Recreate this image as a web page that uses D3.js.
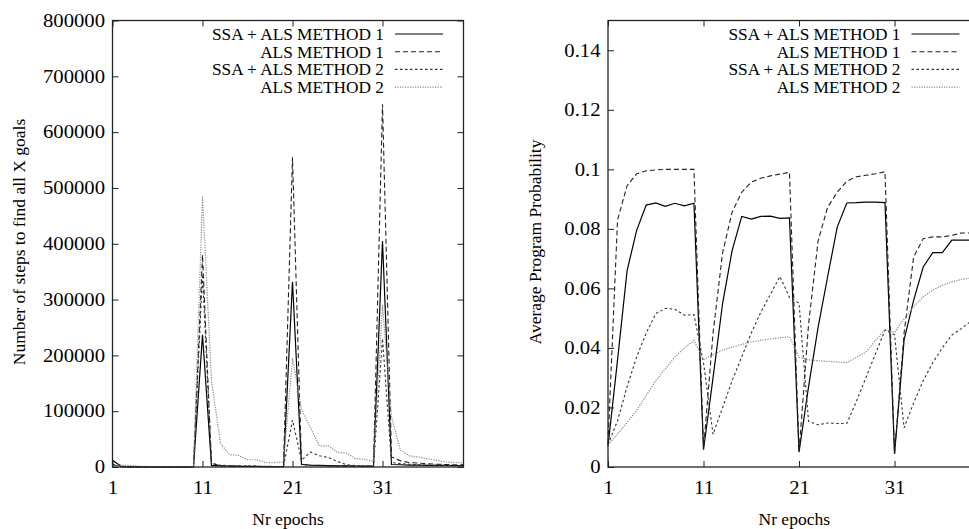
<!DOCTYPE html>
<html>
<head>
<meta charset="utf-8">
<script src="https://cdn.jsdelivr.net/npm/d3@7"></script>
<style>
body { margin: 0; background: #fff; }
svg text { font-family: "Liberation Serif", "Times New Roman", serif; fill: #000; }
</style>
</head>
<body>
<svg id="chart" width="969" height="529"></svg>
<script>
var epochs = d3.range(1, 41);
var epochTicks = [1, 11, 21, 31];
var seriesNames = ["SSA + ALS METHOD 1", "ALS METHOD 1", "SSA + ALS METHOD 2", "ALS METHOD 2"];

// left panel: steps to find all goals
var stepsTicks = [0, 100000, 200000, 300000, 400000, 500000, 600000, 700000, 800000];
var stepsSsa1 = [12000, 800, 300, 200, 200, 200, 200, 200, 200, 200,
	237000, 3000, 2000, 1500, 1200, 1000, 1000, 800, 800, 800,
	332000, 4500, 3500, 3000, 2500, 2000, 2000, 1800, 1500, 1500,
	405000, 4500, 4000, 3500, 3500, 3000, 3000, 2800, 2500, 2500];
var stepsAls1 = [4000, 600, 200, 200, 200, 200, 200, 200, 200, 200,
	380000, 6000, 2500, 2000, 1500, 1200, 1000, 1000, 800, 800,
	555000, 5000, 3000, 2500, 2000, 1800, 1500, 1500, 1200, 1200,
	650000, 18000, 11000, 8000, 7000, 6000, 5000, 4500, 4000, 4000];
var stepsSsa2 = [5000, 1500, 500, 300, 300, 300, 300, 300, 300, 300,
	345000, 7000, 3000, 2500, 2000, 1500, 1500, 1200, 1000, 1000,
	84000, 12000, 27000, 20000, 17000, 10000, 4000, 2500, 1500, 1200,
	230000, 8000, 6000, 5000, 4000, 3500, 3000, 3000, 2500, 2500];
var stepsAls2 = [3000, 3500, 2500, 1500, 800, 500, 500, 500, 500, 500,
	485000, 155000, 42000, 22000, 21000, 13000, 13000, 8000, 8000, 9000,
	195000, 103000, 70000, 38000, 38000, 26000, 25000, 15000, 14000, 10000,
	290000, 90000, 30000, 20000, 18000, 15000, 12000, 9000, 8000, 8000];

// right panel: average program probability
var probTicks = [0, 0.02, 0.04, 0.06, 0.08, 0.1, 0.12, 0.14];
var probSsa1 = [0.007, 0.036, 0.066, 0.0795, 0.088, 0.0887, 0.0876, 0.0886, 0.0877, 0.0886,
	0.0058, 0.030, 0.055, 0.0728, 0.0842, 0.0833, 0.0842, 0.0843, 0.0835, 0.0837,
	0.005, 0.027, 0.047, 0.064, 0.0806, 0.0887, 0.0888, 0.089, 0.089, 0.0888,
	0.0044, 0.0427, 0.056, 0.0672, 0.072, 0.072, 0.0762, 0.0762, 0.0762, 0.0762];
var probAls1 = [0.008, 0.083, 0.0945, 0.0985, 0.0995, 0.0998, 0.1, 0.1, 0.1, 0.1,
	0.006, 0.045, 0.072, 0.0857, 0.0923, 0.0957, 0.097, 0.0978, 0.0984, 0.099,
	0.005, 0.048, 0.076, 0.0873, 0.0923, 0.096, 0.0975, 0.098, 0.0985, 0.0992,
	0.0044, 0.045, 0.0706, 0.0767, 0.0773, 0.0773, 0.0778, 0.0786, 0.0786, 0.0786];
var probSsa2 = [0.0075, 0.0155, 0.027, 0.037, 0.045, 0.0515, 0.0533, 0.053, 0.051, 0.0512,
	0.035, 0.011, 0.02, 0.029, 0.037, 0.045, 0.052, 0.058, 0.064, 0.057,
	0.055, 0.0153, 0.0142, 0.0148, 0.0146, 0.0146, 0.022, 0.030, 0.038, 0.046,
	0.0444, 0.0132, 0.0215, 0.029, 0.035, 0.040, 0.0443, 0.0465, 0.049, 0.051];
var probAls2 = [0.0075, 0.011, 0.015, 0.019, 0.024, 0.029, 0.033, 0.037, 0.040, 0.0425,
	0.036, 0.0378, 0.0392, 0.0403, 0.0412, 0.042, 0.0426, 0.043, 0.0434, 0.0438,
	0.0368, 0.036, 0.0357, 0.0355, 0.0353, 0.0351, 0.0368, 0.0386, 0.0425, 0.0462,
	0.0452, 0.0497, 0.0538, 0.0572, 0.0594, 0.061, 0.0622, 0.063, 0.0635, 0.064];

// gnuplot-ish monochrome line styles
var lineStyles = [
	{ stroke: "#000", dash: null, width: 1.2 },
	{ stroke: "#222", dash: "5,3", width: 1.1 },
	{ stroke: "#333", dash: "2.5,2.5", width: 1.1 },
	{ stroke: "#888", dash: "1.2,1.3", width: 1.2 }
];

var serif = "'Liberation Serif', 'Times New Roman', serif";
var tickStretch = 1.15; // tick numbers in the original look wider than plain Times

var svg = d3.select("#chart");

function drawPanel(opt) {
	var x = d3.scaleLinear().domain([1, 40]).range([opt.left, opt.right]);
	var y = d3.scaleLinear().domain(opt.yDomain).range([467, 20.5]);
	var g = svg.append("g");

	// ticks pointing inward, mirrored on top/right
	g.append("g").attr("class", "yax").attr("transform", "translate(" + opt.left + ",0)")
		.call(d3.axisLeft(y).tickValues(opt.yTicks).tickSize(-6).tickPadding(8).tickFormat(opt.yFormat));
	g.append("g").attr("transform", "translate(" + opt.right + ",0)")
		.call(d3.axisRight(y).tickValues(opt.yTicks).tickSize(-6).tickFormat(""));
	g.append("g").attr("class", "xax").attr("transform", "translate(0,467)")
		.call(d3.axisBottom(x).tickValues(epochTicks).tickSize(-6).tickPadding(14).tickFormat(d3.format("d")));
	g.append("g").attr("transform", "translate(0,20.5)")
		.call(d3.axisTop(x).tickValues(epochTicks).tickSize(-6).tickFormat(""));
	g.selectAll(".domain").remove();
	g.selectAll(".tick line").attr("stroke", "#222").attr("stroke-width", 1);
	g.selectAll("g").attr("font-family", serif);
	g.selectAll(".tick text").attr("font-size", 18).attr("font-family", serif)
		.attr("transform", "scale(" + tickStretch + ",1)");
	g.selectAll(".yax .tick text").attr("x", -7.5 / tickStretch);

	var line = d3.line()
		.x(function(d, i) { return x(epochs[i]); })
		.y(function(d) { return y(d); });

	opt.series.forEach(function(s, i) {
		var st = lineStyles[i];
		g.append("path")
			.attr("d", line(s))
			.attr("fill", "none")
			.attr("stroke", st.stroke)
			.attr("stroke-width", st.width)
			.attr("stroke-dasharray", st.dash)
			.attr("stroke-linejoin", "miter");
	});

	g.append("rect")
		.attr("x", opt.left).attr("y", 20.5)
		.attr("width", opt.right - opt.left).attr("height", 467 - 20.5)
		.attr("fill", "none").attr("stroke", "#222").attr("stroke-width", 1.3);

	// legend
	seriesNames.forEach(function(name, i) {
		var ly = 34 + i * 17.7;
		var st = lineStyles[i];
		g.append("text")
			.attr("x", opt.legendX).attr("y", ly)
			.attr("dy", "0.35em")
			.attr("text-anchor", "end")
			.attr("font-family", serif)
			.attr("font-size", 17.3)
			.text(name);
		g.append("line")
			.attr("x1", opt.legendX + 11).attr("x2", opt.legendX + 59)
			.attr("y1", ly).attr("y2", ly)
			.attr("stroke", st.stroke)
			.attr("stroke-width", st.width)
			.attr("stroke-dasharray", st.dash);
	});

	g.append("text")
		.attr("transform", "translate(" + opt.yLabelX + ",242) rotate(-90)")
		.attr("text-anchor", "middle")
		.attr("dy", "0.35em")
		.attr("font-family", serif)
		.attr("font-size", 17.5)
		.text(opt.yLabel);
	g.append("text")
		.attr("x", (opt.left + opt.right) / 2).attr("y", 519)
		.attr("dy", "0.35em")
		.attr("text-anchor", "middle")
		.attr("font-family", serif)
		.attr("font-size", 17.5)
		.text("Nr epochs");
}

drawPanel({
	left: 112.5, right: 463.5,
	yDomain: [0, 800000], yTicks: stepsTicks, yFormat: d3.format("d"),
	series: [stepsSsa1, stepsAls1, stepsSsa2, stepsAls2],
	legendX: 384, yLabelX: 19,
	yLabel: "Number of steps to find all X goals"
});

drawPanel({
	left: 608, right: 980.5,
	yDomain: [0, 0.15], yTicks: probTicks, yFormat: function(d) { return d === 0 ? "0" : String(+d.toFixed(2)); },
	series: [probSsa1, probAls1, probSsa2, probAls2],
	legendX: 900.5, yLabelX: 535,
	yLabel: "Average Program Probability"
});
</script>
</body>
</html>
